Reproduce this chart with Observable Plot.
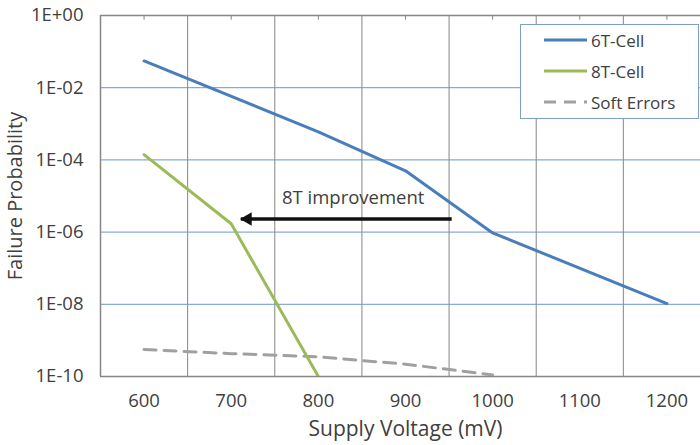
<!DOCTYPE html>
<html>
<head>
<meta charset="utf-8">
<script src="https://cdn.jsdelivr.net/npm/d3@7"></script>
<script src="https://cdn.jsdelivr.net/npm/@observablehq/plot@0.6"></script>
<style>
  html, body { margin: 0; padding: 0; background: #fff; overflow: hidden; }
  #wrap { position: relative; width: 700px; height: 445px; overflow: hidden; }
  #chart svg { max-width: none !important; }
  #chart g[aria-label="x-axis label"] text { font-size: 21px; }
  #chart g[aria-label="y-axis label"] text { font-size: 20px; }
  #chart g[aria-label="x-axis tick label"] text, #chart g[aria-label="y-axis tick label"] text { font-size: 18.5px; }
  #legend {
    position: absolute; left: 520px; top: 24px; width: 177px; height: 93px;
    border: 1px solid #7f9fcf; background: #fff;
    font-family: "Open Sans", sans-serif; font-size: 17px; color: #404040;
  }
  .item { position: absolute; left: 23px; height: 20px; display: flex; align-items: center; }
  .item svg { margin-right: 4px; }
</style>
</head>
<body>
<div id="wrap">
  <div id="chart"></div>
  <div id="legend"></div>
</div>
<script>
// Data
const voltage6T = [600, 800, 900, 1000, 1200];
const prob6T    = [5.5e-2, 6e-4, 5e-5, 9.5e-7, 1.05e-8];
const voltage8T = [600, 700, 800];
const prob8T    = [1.4e-4, 1.7e-6, 1e-10];
const voltageSoft = [600, 700, 800, 900, 1000];
const probSoft    = [5.6e-10, 4.3e-10, 3.5e-10, 2.2e-10, 1.1e-10];

const seriesNames  = ["6T-Cell", "8T-Cell", "Soft Errors"];
const seriesColors = ["#4a7ebb", "#9bbb59", "#a0a0a0"];

const xTicks = [600, 700, 800, 900, 1000, 1100, 1200];
const xGrid  = [650, 750, 850, 950, 1050, 1150];
const yTicks = [1, 1e-2, 1e-4, 1e-6, 1e-8, 1e-10];
const yTickLabels = ["1E+00", "1E-02", "1E-04", "1E-06", "1E-08", "1E-10"];
const yGrid  = [1e-2, 1e-4, 1e-6, 1e-8];

const arrowFrom = 953, arrowTo = 711, arrowLevel = 2.3e-6;
const annotation = "8T improvement";
const annotationX = 840, annotationY = 8.5e-6;

const rows = (xs, ys, s) => xs.map((x, i) => ({x, y: ys[i], s}));
const data6T = rows(voltage6T, prob6T, seriesNames[0]);
const data8T = rows(voltage8T, prob8T, seriesNames[1]);
const dataSoft = rows(voltageSoft, probSoft, seriesNames[2]);

const axisGray = "#868686";
const gridBlue = "#6a96d2";

const chart = Plot.plot({
  width: 710,
  height: 445,
  marginLeft: 100,
  marginRight: 0,
  marginTop: 15,
  marginBottom: 69,
  style: {fontFamily: "Open Sans", fontSize: "18px", color: "#404040", background: "white", overflow: "visible", maxWidth: "none"},
  x: {domain: [550, 1250]},
  y: {type: "log", domain: [1e-10, 1]},
  marks: [
    Plot.gridX(xGrid, {stroke: axisGray, strokeOpacity: 1}),
    Plot.gridY(yGrid, {stroke: gridBlue, strokeOpacity: 1}),
    Plot.ruleX([550], {stroke: axisGray, strokeWidth: 1.5}),
    Plot.ruleY([1e-10], {stroke: axisGray, strokeWidth: 1.5}),
    Plot.ruleY([1], {stroke: axisGray, strokeWidth: 1.5}),
    Plot.ruleX(xTicks, {y1: 1, y2: Math.pow(10, -0.13), stroke: axisGray}),
    Plot.axisY({ticks: yTicks, tickSize: 0, tickPadding: 17, tickFormat: d => yTickLabels[yTicks.indexOf(d)],
      label: "Failure Probability", labelAnchor: "center", labelArrow: "none", labelOffset: 93}),
    Plot.axisX({ticks: xTicks, tickSize: 0, tickPadding: 17, tickFormat: d => String(d),
      label: "Supply Voltage (mV)", labelAnchor: "center", labelArrow: "none", labelOffset: 59}),
    Plot.line(dataSoft, {x: "x", y: "y", stroke: seriesColors[2], strokeWidth: 3, strokeDasharray: "12,8", clip: true}),
    Plot.line(data8T, {x: "x", y: "y", stroke: seriesColors[1], strokeWidth: 3, clip: true}),
    Plot.line(data6T, {x: "x", y: "y", stroke: seriesColors[0], strokeWidth: 3, clip: true}),
    Plot.link([0], {x1: () => arrowFrom, x2: () => arrowTo, y1: () => arrowLevel, y2: () => arrowLevel, stroke: "#111", strokeWidth: 3.5}),
    Plot.dot([0], {x: () => arrowTo, y: () => arrowLevel, symbol: "triangle", r: 5, rotate: -90, dx: 7, fill: "#111", stroke: "none"}),
    Plot.text([annotation], {x: () => annotationX, y: () => annotationY, text: d => d, fontSize: 18.5, fill: "#404040"})
  ]
});
document.getElementById("chart").appendChild(chart);

// Legend
const legend = document.getElementById("legend");
const legendTops = [5, 36, 67];
seriesNames.forEach((name, i) => {
  const item = document.createElement("div");
  item.className = "item";
  item.style.top = legendTops[i] + "px";
  const dash = i === 2 ? ' stroke-dasharray="12,8"' : '';
  item.innerHTML = `<svg width="43" height="6"><line x1="0" y1="3" x2="43" y2="3" stroke="${seriesColors[i]}" stroke-width="3"${dash}/></svg><span>${name}</span>`;
  legend.appendChild(item);
});
</script>
</body>
</html>
